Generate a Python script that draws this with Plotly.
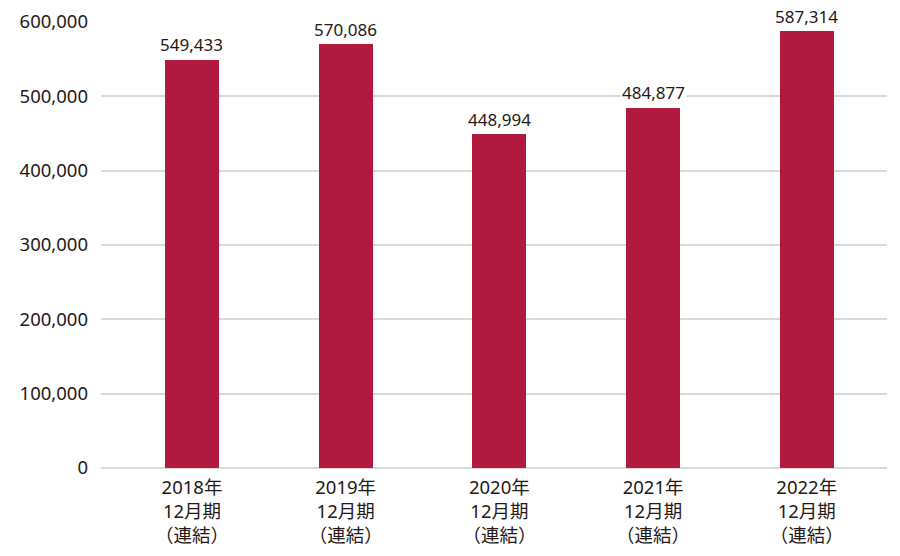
import plotly.graph_objects as go

categories = ["2018年<br>12月期<br>（連結）", "2019年<br>12月期<br>（連結）", "2020年<br>12月期<br>（連結）",
              "2021年<br>12月期<br>（連結）", "2022年<br>12月期<br>（連結）"]
values = [549433, 570086, 448994, 484877, 587314]
y_ticks = [0, 100000, 200000, 300000, 400000, 500000, 600000]

FONT = "Noto Sans, Noto Sans CJK JP"
TXT = "#231815"
BAR = "#B11A3E"

x_idx = list(range(len(categories)))

fig = go.Figure()
fig.add_trace(go.Bar(x=x_idx, y=values, width=0.35, marker=dict(color=BAR, line=dict(width=0)),
                     hoverinfo="skip"))

for xi, v in zip(x_idx, values):
    fig.add_annotation(x=xi, y=v, text=f"{v:,}", showarrow=False, yanchor="middle", yshift=15,
                       bgcolor="white", borderpad=1,
                       font=dict(family=FONT, size=17, color=TXT))

fig.update_layout(
    width=900, height=556,
    margin=dict(l=93, r=21, t=14, b=96, autoexpand=False),
    plot_bgcolor="white", paper_bgcolor="white",
    showlegend=False,
    font=dict(family=FONT, size=18, color=TXT),
    bargap=0,
)
fig.update_xaxes(
    tickmode="array", tickvals=x_idx, ticktext=categories, automargin=False,
    range=[-0.592, 4.522], showgrid=False, zeroline=False, showline=False,
    tickfont=dict(family=FONT, size=18.5, color=TXT), ticks="", ticklabelstandoff=6,
)
fig.update_yaxes(
    range=[0, 600000], tickvals=y_ticks, ticktext=[f"{t:,}" for t in y_ticks], automargin=False,
    showgrid=True, gridcolor="#d9d9d9", gridwidth=2,
    zeroline=True, zerolinecolor="#d9d9d9", zerolinewidth=2, showline=False,
    tickfont=dict(family=FONT, size=18.5, color=TXT), ticks="", ticklabelstandoff=12,
)

fig.write_html("out.html")
